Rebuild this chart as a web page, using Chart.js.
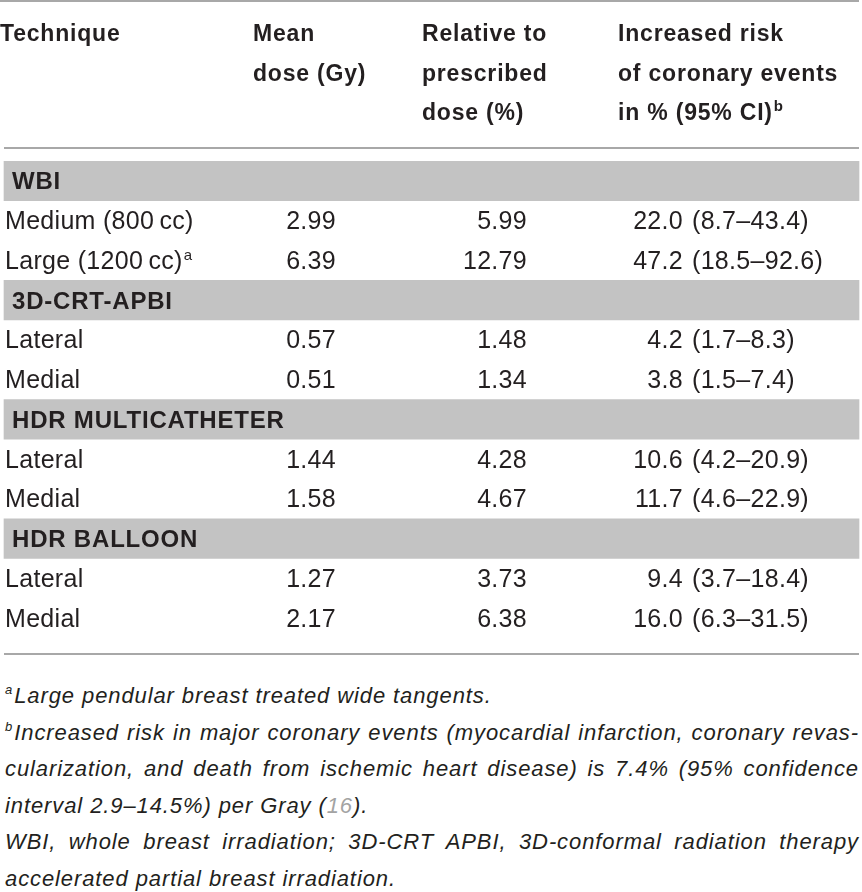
<!DOCTYPE html>
<html>
<head>
<meta charset="utf-8">
<script src="https://cdn.jsdelivr.net/npm/chart.js@4.4.1/dist/chart.umd.min.js"></script>
<style>
  html, body { margin: 0; padding: 0; background: #fff; }
  body { width: 862px; height: 892px; position: relative; overflow: hidden; }
  #tableChart { position: absolute; left: 0; top: 0; }
  .notes { position: absolute; left: 5px; top: 678px; width: 854px; font: italic 22px "Liberation Sans", Arial, sans-serif; letter-spacing: 0.9px; line-height: 36.6px; color: #231f20; }
  .notes .just { text-align: justify; text-align-last: justify; }
  .notes sup { font-size: 13px; line-height: 0; vertical-align: 9px; letter-spacing: 0; margin-right: 2px; }
  .notes .ref { color: #a3a3a3; }
</style>
</head>
<body>
<canvas id="tableChart" width="862" height="662"></canvas>
<div class="notes">
  <div><sup>a</sup>Large pendular breast treated wide tangents.</div>
  <div class="just"><sup>b</sup>Increased risk in major coronary events (myocardial infarction, coronary revas-</div>
  <div class="just">cularization, and death from ischemic heart disease) is 7.4% (95% confidence</div>
  <div>interval 2.9–14.5%) per Gray (<span class="ref">16</span>).</div>
  <div class="just">WBI, whole breast irradiation; 3D-CRT APBI, 3D-conformal radiation therapy</div>
  <div>accelerated partial breast irradiation.</div>
</div>
<script>
const groups = ['WBI', '3D-CRT-APBI', 'HDR MULTICATHETER', 'HDR BALLOON'];
const techniques = ['Medium (800\u2009cc)', 'Large (1200\u2009cc)', 'Lateral', 'Medial', 'Lateral', 'Medial', 'Lateral', 'Medial'];
const techniqueGroup = [0, 0, 1, 1, 2, 2, 3, 3];
const techniqueNote = ['', 'a', '', '', '', '', '', ''];
const meanDose = [2.99, 6.39, 0.57, 0.51, 1.44, 1.58, 1.27, 2.17];
const relativeDose = [5.99, 12.79, 1.48, 1.34, 4.28, 4.67, 3.73, 6.38];
const riskPct = [22.0, 47.2, 4.2, 3.8, 10.6, 11.7, 9.4, 16.0];
const riskLow = [8.7, 18.5, 1.7, 1.5, 4.2, 4.6, 3.7, 6.3];
const riskHigh = [43.4, 92.6, 8.3, 7.4, 20.9, 22.9, 18.4, 31.5];
const headerLines = [
    ['Technique'],
    ['Mean', 'dose (Gy)'],
    ['Relative to', 'prescribed', 'dose (%)'],
    ['Increased risk', 'of coronary events', 'in % (95% CI)']
];
const headerNote = ['', '', '', 'b'];

// layout (pixels, x scale runs 0..862 across the canvas)
const tableLeft = 4;
const tableRight = 859;
const headerX = [0, 253, 422, 618];
const headerBaseline = [41, 80.5, 120];
const col = { technique: 5, group: 12, mean: 336, relative: 527, risk: 683, ci: 692 };
const ink = '#231f20';
const fontFamily = '"Liberation Sans", Arial, sans-serif';

// one category per table row: a grey band per group, then its techniques
let rowKeys = [];
let rowKinds = [];
let rowRef = [];
groups.forEach((g, gi) => {
    rowKeys.push(g);
    rowKinds.push('group');
    rowRef.push(gi);
    techniqueGroup.forEach((tg, ti) => {
        if (tg == gi) {
            rowKeys.push(g + ' / ' + techniques[ti] + ' ' + ti);
            rowKinds.push('item');
            rowRef.push(ti);
        }
    });
});
const bandData = rowKinds.map(k => k == 'group' ? [tableLeft, tableRight] : null);

const writeText = (ctx, text, px, py, font, align, spacing, note, noteFont) => {
    ctx.font = font;
    ctx.letterSpacing = spacing;
    ctx.textAlign = align;
    ctx.fillText(text, px, py);
    if (note) {
        let w = ctx.measureText(text).width;
        ctx.font = noteFont;
        ctx.letterSpacing = '0px';
        ctx.textAlign = 'left';
        ctx.fillText(note, px + w + 1, py - 9);
    }
};

const tableText = {
    id: 'tableText',
    afterDatasetsDraw(chart) {
        const { ctx, chartArea, scales: { x, y } } = chart;
        ctx.save();

        // horizontal rules
        ctx.strokeStyle = '#a8a8a8';
        ctx.lineWidth = 2;
        [[0, 1], [tableLeft, 148], [tableLeft, chartArea.bottom + 16]].forEach(r => {
            ctx.beginPath();
            ctx.moveTo(x.getPixelForValue(r[0]), r[1]);
            ctx.lineTo(x.getPixelForValue(tableRight), r[1]);
            ctx.stroke();
        });

        ctx.fillStyle = ink;
        ctx.textBaseline = 'alphabetic';

        // column headers
        headerLines.forEach((lines, ci) => {
            lines.forEach((line, li) => {
                let note = li == lines.length - 1 ? headerNote[ci] : '';
                writeText(ctx, line, x.getPixelForValue(headerX[ci]), headerBaseline[li],
                    'bold 23px ' + fontFamily, 'left', '0.8px', note, 'bold 15px ' + fontFamily);
            });
        });

        // body rows
        rowKinds.forEach((kind, ri) => {
            let py = y.getPixelForValue(ri) + 8.5;
            let k = rowRef[ri];
            if (kind == 'group') {
                writeText(ctx, groups[k], x.getPixelForValue(col.group), py,
                    'bold 24px ' + fontFamily, 'left', '0.8px');
                return;
            }
            let body = '25px ' + fontFamily;
            writeText(ctx, techniques[k], x.getPixelForValue(col.technique), py, body, 'left', '0.3px',
                techniqueNote[k], '15px ' + fontFamily);
            writeText(ctx, meanDose[k].toFixed(2), x.getPixelForValue(col.mean), py, body, 'right', '0.3px');
            writeText(ctx, relativeDose[k].toFixed(2), x.getPixelForValue(col.relative), py, body, 'right', '0.3px');
            writeText(ctx, riskPct[k].toFixed(1), x.getPixelForValue(col.risk), py, body, 'right', '0.3px');
            writeText(ctx, '(' + riskLow[k].toFixed(1) + '\u2013' + riskHigh[k].toFixed(1) + ')',
                x.getPixelForValue(col.ci), py, body, 'left', '0.3px');
        });
        ctx.restore();
    }
};

const tableChart = new Chart(document.getElementById('tableChart'), {
    type: 'bar',
    data: {
        labels: rowKeys,
        datasets: [{
            label: 'group bands',
            data: bandData,
            backgroundColor: '#c3c3c3',
            borderWidth: 0,
            barPercentage: 1,
            categoryPercentage: 1
        }]
    },
    options: {
        indexAxis: 'y',
        responsive: false,
        animation: false,
        layout: { padding: { top: 161, bottom: 24, left: 0, right: 0 } },
        scales: {
            x: { type: 'linear', min: 0, max: 862, display: false },
            y: { display: false }
        },
        plugins: {
            legend: { display: false },
            tooltip: { enabled: false }
        }
    },
    plugins: [tableText]
});
</script>
</body>
</html>
